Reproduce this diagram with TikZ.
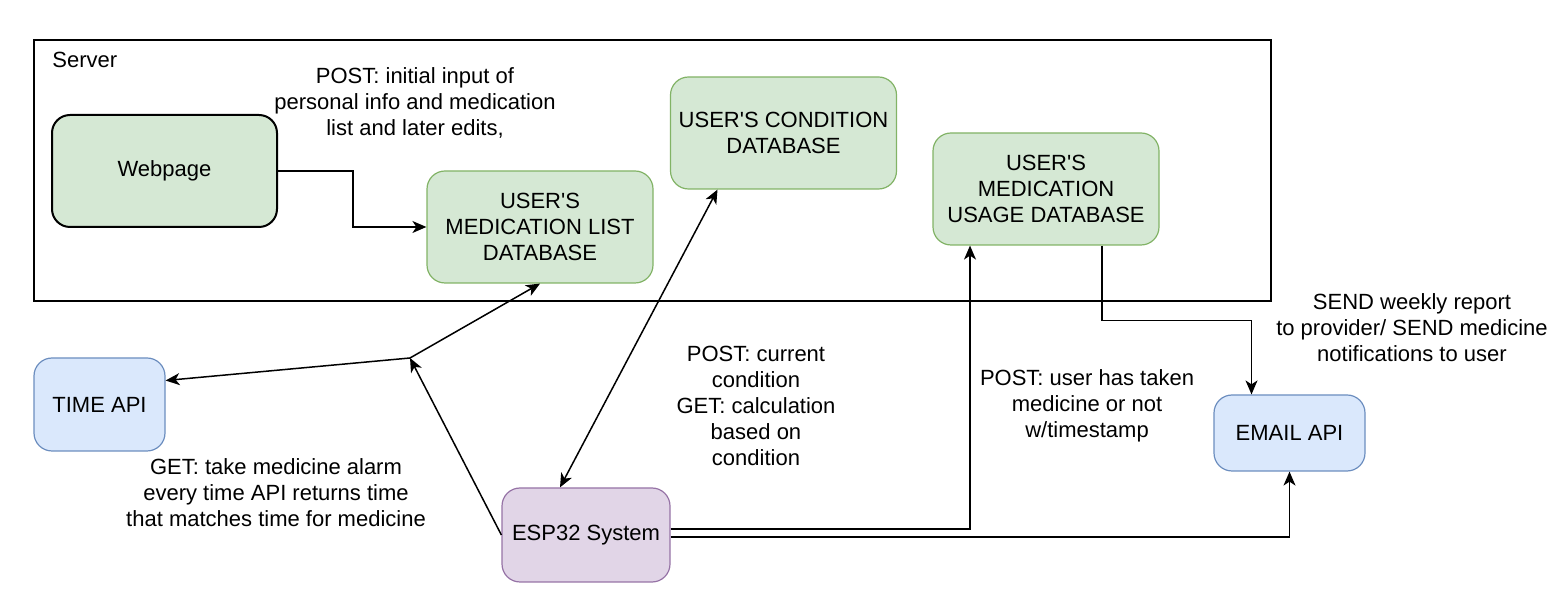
\documentclass[tikz,border=0pt]{standalone}
\usepackage{fontspec}
\setmainfont{Liberation Sans}
\usetikzlibrary{arrows.meta}

\definecolor{dbfill}{HTML}{D5E8D4}
\definecolor{dbline}{HTML}{82B366}
\definecolor{apifill}{HTML}{DAE8FC}
\definecolor{apiline}{HTML}{6C8EBF}
\definecolor{espfill}{HTML}{E1D5E7}
\definecolor{espline}{HTML}{9673A6}

\tikzset{
  box/.style={rectangle, rounded corners=9pt, align=center, inner sep=0pt},
  db/.style={box, fill=dbfill, draw=dbline, line width=0.6pt, minimum width=113pt, minimum height=56pt},
  api/.style={box, fill=apifill, draw=apiline, line width=0.6pt},
  note/.style={align=center, inner sep=0pt},
  tip/.tip={Stealth[length=7pt, width=6pt, inset=2pt]},
  link/.style={-tip, line width=0.75pt}
}

\begin{document}
\begin{tikzpicture}[x=0.5pt, y=-0.5pt, font=\fontsize{11}{13}\selectfont]
    \useasboundingbox (0,0) rectangle (1564,592);

    % Server frame
    \node[draw, line width=0.75pt, minimum width=618.5pt, minimum height=130.5pt, inner sep=0pt] (server) at (652.5,170.5) {};
    \node[anchor=west, inner sep=0pt] (serverlbl) at (52,60) {Server};

    % Nodes
    \node[box, fill=dbfill, draw=black, line width=1pt, minimum width=112.5pt, minimum height=56pt] (web) at (164.5,171) {Webpage};
    \node[db] (medlist) at (540,227) {USER\textquotesingle S\\MEDICATION LIST\\DATABASE};
    \node[db] (cond) at (783.5,133) {USER\textquotesingle S CONDITION\\DATABASE};
    \node[db] (usage) at (1046,189) {USER\textquotesingle S\\MEDICATION\\USAGE DATABASE};
    \node[api, minimum width=65.5pt, minimum height=46.5pt] (time) at (99.5,404.5) {TIME API};
    \node[box, fill=espfill, draw=espline, line width=0.6pt, minimum width=84pt, minimum height=47pt] (esp) at (586,535) {ESP32 System};
    \node[api, minimum width=75.5pt, minimum height=38pt] (email) at (1289.5,433) {EMAIL API};
    \coordinate (fork) at (410,358);

    % Labels
    \node[note] (postinit) at (415,103) {POST: initial input of\\personal info and medication\\list and later edits,};
    \node[note] (postcond) at (756,406) {POST: current\\condition\\GET: calculation\\based on\\condition};
    \node[note] (posttaken) at (1087,406) {POST: user has taken\\medicine or not\\w/timestamp};
    \node[note] (sendrep) at (1412,328) {SEND weekly report\\to provider/ SEND medicine\\notifications to user};
    \node[note] (getalarm) at (276,493) {GET: take medicine alarm\\every time API returns time\\that matches time for medicine};

    % Edges
    \draw[link] (web.east) -- ++(75,0) |- (medlist.west);
    \draw[link] (esp.west) -- (fork);
    \draw[link] (fork) -- ([yshift=12pt]time.east);
    \draw[link] (fork) -- (medlist.south);
    \draw[link, tip-tip] ([xshift=-13pt]esp.north) -- ([xshift=-33pt]cond.south);
    \draw[link] ([yshift=3pt]esp.east) -| ([xshift=-38pt]usage.south);
    \draw[link] ([yshift=-1pt]esp.east) -| (email.south);
    \draw[link] ([xshift=28pt]usage.south) -- ++(0,75) -| ([xshift=-19pt]email.north);
\end{tikzpicture}
\end{document}
